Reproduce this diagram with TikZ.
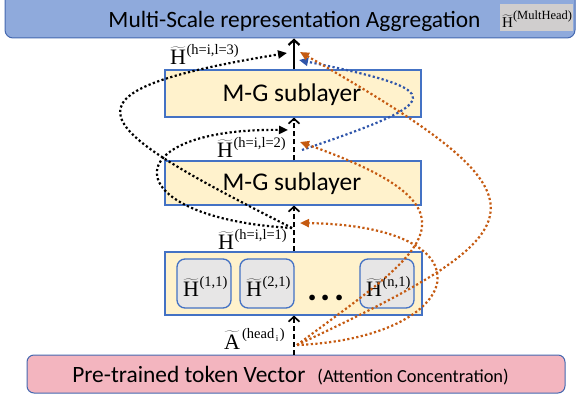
\documentclass[tikz,border=0pt]{standalone}
\usepackage{fontspec}
\setmainfont{Carlito}
\newfontfamily\tms{Liberation Serif}
\usetikzlibrary{arrows.meta}
\definecolor{topfill}{RGB}{143,170,220}
\definecolor{topline}{RGB}{68,104,176}
\definecolor{mgfill}{RGB}{255,242,204}
\definecolor{mgline}{RGB}{68,114,196}
\definecolor{hgray}{RGB}{231,230,230}
\definecolor{pinkfill}{RGB}{243,181,191}
\definecolor{grayb}{RGB}{208,206,206}
\definecolor{orng}{RGB}{197,90,17}
\definecolor{blu}{RGB}{47,85,170}
\newcommand{\Hlab}[1]{{\tms\fontsize{22}{22}\selectfont$\widetilde{\hbox{H}}$\kern0.5pt\raisebox{10.5pt}{\fontsize{14.5}{14.5}\selectfont#1}}}
\newcommand{\Alab}{{\tms\fontsize{22}{22}\selectfont$\widetilde{\hbox{A}}$\kern2pt\raisebox{10.5pt}{\fontsize{14.5}{14.5}\selectfont(head\raisebox{-3pt}{\fontsize{9}{9}\selectfont\,i\,})}}}
\newcommand{\Hmh}{{\tms\fontsize{15}{15}\selectfont$\widetilde{\hbox{H}}$\raisebox{8.5pt}{\fontsize{12.5}{12.5}\selectfont(MultHead)}}}
\begin{document}
\begin{tikzpicture}[x=1pt,y=-1pt,
  mgbox/.style={draw=mgline,fill=mgfill,line width=1.1pt,minimum width=256pt,inner sep=0pt},
  headbox/.style={draw=mgline,fill=hgray,line width=1.3pt,rounded corners=8pt,minimum width=54pt,minimum height=49pt,inner sep=0pt},
  mgfont/.style={font=\fontsize{25.5}{25.5}\selectfont,inner sep=0pt},
  solidflow/.style={line width=2.6pt,-{Straight Barb[length=5pt,width=11pt,line width=2.2pt]}},
  dashflow/.style={line width=1.7pt,dash pattern=on 5pt off 3pt,-{Straight Barb[length=5pt,width=11pt,line width=1.7pt]}},
  dotline/.style={line width=2.2pt,dash pattern=on 2.2pt off 2.4pt},
  tip/.style={-{Triangle[length=9pt,width=8pt]}},
  lab/.style={anchor=base west,inner sep=0pt}]
\useasboundingbox (0,0) rectangle (579,401);
\coordinate (col) at (294,0);
% boxes
\node[draw=topline,fill=topfill,line width=1pt,rounded corners=8pt,minimum width=570pt,minimum height=50pt,inner sep=0pt] (agg) at (290,13) {};
\node[anchor=base,inner sep=0pt,font=\fontsize{23.4}{23.4}\selectfont] (aggt) at (294.5,27.5) {Multi-Scale representation Aggregation};
\node[fill=grayb,minimum width=73pt,minimum height=27pt,inner sep=0pt] (mh) at (536.5,17.5) {};
\node[lab] (mht) at (502,28) {\Hmh};
\node[mgbox,minimum height=47pt] (mg2) at (293,93.5) {};
\node[anchor=base,mgfont] (mg2t) at (292,101.5) {M-G sublayer};
\node[mgbox,minimum height=44pt] (mg1) at (293,183) {};
\node[anchor=base,mgfont] (mg1t) at (292,191) {M-G sublayer};
\node[mgbox,minimum width=257pt,minimum height=63pt] (hb) at (293.5,283.5) {};
\node[headbox] (h11) at (204,283.5) {};
\node[headbox] (h21) at (267,283.5) {};
\node[headbox] (hn1) at (387,283.5) {};
\node[lab] (h11t) at (183,297) {\Hlab{(1,1)}};
\node[lab] (h21t) at (246,297) {\Hlab{(2,1)}};
\node[lab] (hn1t) at (366,297) {\Hlab{(n,1)}};
\node[anchor=base,inner sep=0pt] (dots) at (326,300) {\fontsize{38}{38}\selectfont\bfseries .\kern3pt.\kern3pt.};
\node[draw=topline,fill=pinkfill,line width=1pt,rounded corners=7pt,minimum width=538pt,minimum height=38pt,inner sep=0pt] (ptv) at (296,374) {};
\node[anchor=base,inner sep=0pt,font=\fontsize{23.4}{23.4}\selectfont] (ptvt) at (290.5,382.5) {Pre-trained token Vector\hspace{12pt}{\fontsize{18.4}{18.4}\selectfont(Attention Concentration)}};
% main flow
\draw[solidflow] (mg2.north -| col) -- (agg.south -| col);
\draw[dashflow] (mg1.north -| col) -- (mg2.south -| col);
\draw[dashflow] (hb.north -| col) -- (mg1.south -| col);
\draw[dashflow] (ptv.north -| col) -- (hb.south -| col);
% labels
\node[lab] (l3) at (170,65) {\Hlab{(h=i,l=3)}};
\node[lab] (l2) at (217,158) {\Hlab{(h=i,l=2)}};
\node[lab] (l1) at (218,250) {\Hlab{(h=i,l=1)}};
\node[lab] (la) at (224,349) {\Alab};
% junction points
\coordinate (j1) at (292,228);
\coordinate (j2k) at (288,130);
\coordinate (j3k) at (287,53);
\coordinate (j1o) at (300,223);
\coordinate (j2o) at (300,142);
\coordinate (j3o) at (300,52);
\coordinate (j2b) at (302,150);
\coordinate (j3b) at (299,60);
\coordinate (ja) at (297,345);
% curves
\draw[dotline,black,tip] (j1) .. controls +(-176,-10) and +(-176,-2) .. (j2k);
\draw[dotline,black,tip] (j1) .. controls +(-203,-103) and +(-244,40) .. (j3k);
\draw[dotline,blu,tip] (j2b) .. controls +(144,-49) and +(153,31) .. (j3b);
\draw[dotline,orng,tip] (ja) .. controls +(170,-7) and +(197,3) .. (j1o);
\draw[dotline,orng,tip] (ja) .. controls +(123,-92) and +(198,70) .. (j2o);
\draw[dotline,orng,tip] (ja) .. controls +(252,-118) and +(258,148) .. (j3o);
\end{tikzpicture}
\end{document}
